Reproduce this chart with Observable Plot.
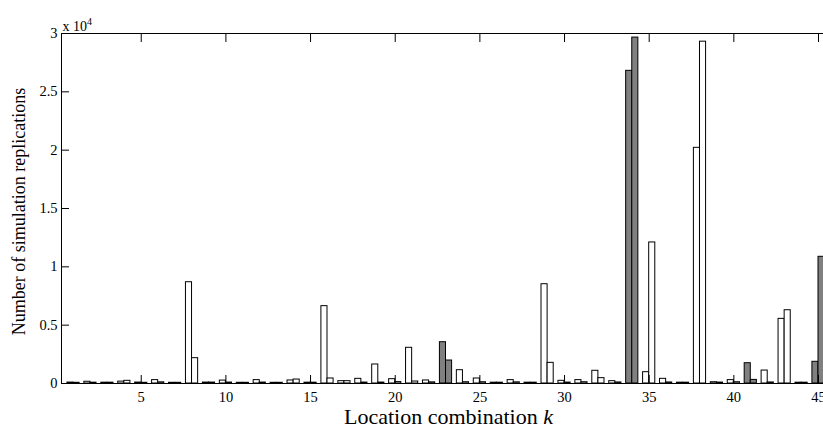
<!DOCTYPE html>
<html>
<head>
<meta charset="utf-8">
<script src="https://cdn.jsdelivr.net/npm/d3@7"></script>
<script src="https://cdn.jsdelivr.net/npm/@observablehq/plot@0.6"></script>
<style>
  html, body { margin: 0; padding: 0; background: white; }
</style>
</head>
<body>
<div id="chart"></div>
<script>
// Location combinations k = 1..45
const combos = d3.range(1, 46);
// First bar of each group
const seriesA = [80,150,70,160,80,290,60,8680,80,250,60,290,60,260,70,6630,200,400,1630,370,3060,260,3540,1140,430,70,290,70,8510,230,290,1090,200,26800,970,400,70,20200,110,290,1740,1110,5540,70,1860];
// Second bar of each group
const seriesB = [60,70,70,230,60,100,60,2170,80,80,60,80,60,340,70,430,200,80,80,120,170,100,1970,110,110,70,100,70,1770,80,110,460,90,29650,12090,90,70,29300,80,110,310,90,6280,70,10860];
// Groups drawn with dark fill
const highlighted = [23, 34, 41, 45];
// Tick values
const xTicks = [5,10,15,20,25,30,35,40,45];
const yTicks = [0,5000,10000,15000,20000,25000,30000];

const barW = 0.36;
const xDomain = [0.29, 45.295];
const yDomain = [0, 30000];

const data = combos.flatMap((k, i) => [
  {k, s: 0, v: seriesA[i], dark: highlighted.includes(k)},
  {k, s: 1, v: seriesB[i], dark: highlighted.includes(k)}
]);

const chart = Plot.plot({
  width: 823,
  height: 428,
  marginLeft: 61,
  marginRight: 0,
  marginTop: 33,
  marginBottom: 45,
  style: {fontFamily: "'Liberation Serif', 'Times New Roman', serif", fontSize: "14px", background: "white", color: "black"},
  x: {domain: xDomain, label: null},
  y: {domain: yDomain, label: null},
  color: {type: "identity"},
  marks: [
    Plot.rectY(data, {
      x1: d => d.k - barW + d.s * barW,
      x2: d => d.k + d.s * barW,
      y: "v",
      fill: d => d.dark ? "#808080" : "white",
      stroke: "black",
      strokeWidth: 1,
      clip: true
    }),
    Plot.ruleY([yDomain[0], yDomain[1]], {stroke: "black", strokeWidth: 1}),
    Plot.ruleX([xDomain[0]], {stroke: "black", strokeWidth: 1}),
    Plot.axisX(xTicks, {anchor: "bottom", tickSize: -8, tickPadding: 16, fontSize: 14.5, label: null}),
    Plot.axisX(xTicks, {anchor: "top", tickSize: -8, tickFormat: () => "", label: null}),
    Plot.axisY(yTicks, {anchor: "left", tickSize: -8, tickPadding: 12, fontSize: 14.5, tickFormat: d => String(d / 1e4), label: null}),
    Plot.text(["x 10"], {frameAnchor: "top-left", textAnchor: "start", lineAnchor: "bottom", dx: 1, dy: -3, fontSize: 14, ariaDescription: "exponent"}),
    Plot.text(["Number of simulation replications"], {frameAnchor: "left", textAnchor: "middle", lineAnchor: "middle", rotate: -90, dx: -42, dy: 3, fontSize: 18, ariaDescription: "ylabel"}),
    Plot.text(["Location combination "], {frameAnchor: "bottom", textAnchor: "middle", lineAnchor: "middle", dx: 6, dy: 33.5, fontSize: 22, ariaDescription: "xlabel"})
  ]
});

document.getElementById("chart").appendChild(chart);

// Mixed styling within labels: italic k, superscript exponent
const svg = d3.select(chart);
const xl = svg.select('g[aria-description="xlabel"] text');
xl.text(null);
xl.append("tspan").text("Location combination ");
xl.append("tspan").attr("font-style", "italic").text("k");

const ex = svg.select('g[aria-description="exponent"] text');
ex.text(null);
ex.append("tspan").text("x 10");
ex.append("tspan").attr("font-size", 10).attr("dy", "-0.6em").text("4");
</script>
</body>
</html>
